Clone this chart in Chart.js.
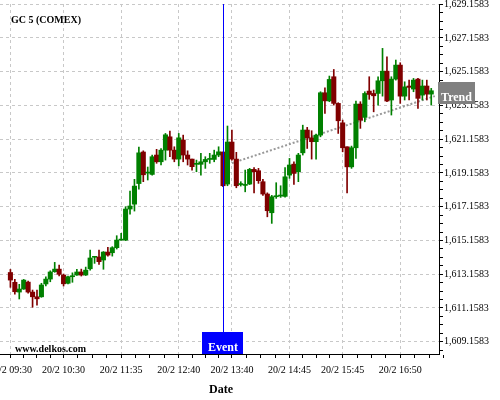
<!DOCTYPE html>
<html>
<head>
<meta charset="utf-8">
<script src="https://cdn.jsdelivr.net/npm/chart.js@4.4.1/dist/chart.umd.min.js"></script>
<style>
html, body { margin: 0; padding: 0; background: #fff; }
#wrap { width: 500px; height: 400px; }
</style>
</head>
<body>
<div id="wrap"><canvas id="graph"></canvas></div>
<script>
// 5 minute candles, 20/2 from 09:30 (index 0) to 17:25 (index 95)
const openP = [
  1613.26, 1612.68, 1612.10, 1612.28, 1612.69, 1612.10, 1611.82, 1611.82, 1612.58, 1612.87,
  1613.31, 1613.46, 1613.11, 1612.62, 1613.01, 1613.11, 1613.29, 1613.11, 1613.48, 1614.16,
  1614.18, 1614.00, 1614.47, 1614.43, 1614.73, 1615.18, 1615.18, 1617.02, 1617.31, 1618.53,
  1620.40, 1619.15, 1619.07, 1620.22, 1619.82, 1620.51, 1621.30, 1620.51, 1619.98, 1621.11,
  1620.22, 1619.98, 1619.67, 1619.67, 1619.82, 1619.96, 1619.96, 1620.22, 1620.40, 1618.50,
  1620.99, 1619.98, 1618.47, 1618.42, 1618.50, 1619.37, 1619.29, 1618.64, 1617.91, 1616.80,
  1617.75, 1617.79, 1617.77, 1619.03, 1619.68, 1619.23, 1620.35, 1621.70, 1621.24, 1621.01,
  1621.40, 1623.91, 1623.43, 1624.86, 1623.28, 1622.13, 1620.71, 1619.52, 1620.65, 1623.24,
  1622.45, 1624.01, 1623.87, 1623.87, 1624.62, 1625.19, 1623.48, 1624.72, 1625.55, 1623.71,
  1624.31, 1624.13, 1624.72, 1623.77, 1624.31, 1623.83
];
const highP = [
  1613.44, 1612.85, 1612.56, 1612.85, 1612.75, 1612.22, 1612.22, 1612.62, 1613.01, 1613.36,
  1613.86, 1613.70, 1613.17, 1613.05, 1613.24, 1613.44, 1613.46, 1613.58, 1614.59, 1614.21,
  1614.59, 1614.50, 1614.75, 1614.79, 1615.44, 1615.58, 1617.16, 1618.09, 1618.78, 1620.69,
  1620.47, 1619.51, 1620.22, 1620.56, 1620.61, 1621.50, 1621.64, 1620.71, 1621.50, 1621.40,
  1620.47, 1619.98, 1619.92, 1620.32, 1620.12, 1620.32, 1620.51, 1620.71, 1620.40, 1621.94,
  1621.70, 1620.38, 1618.64, 1619.33, 1619.43, 1619.47, 1619.43, 1618.78, 1617.98, 1617.83,
  1618.58, 1618.40, 1619.47, 1620.02, 1619.82, 1620.32, 1621.99, 1621.86, 1621.66, 1621.46,
  1623.97, 1624.20, 1624.90, 1625.29, 1623.32, 1622.29, 1620.71, 1620.75, 1623.42, 1623.38,
  1623.97, 1624.86, 1624.07, 1624.86, 1626.54, 1626.04, 1624.86, 1625.85, 1625.69, 1624.56,
  1624.66, 1624.76, 1624.76, 1624.66, 1624.66, 1624.17
];
const lowP = [
  1612.38, 1611.97, 1611.69, 1612.26, 1612.03, 1611.20, 1611.33, 1611.79, 1612.46, 1612.71,
  1613.27, 1613.05, 1612.46, 1612.58, 1612.68, 1613.08, 1613.05, 1613.08, 1613.40, 1613.80,
  1613.74, 1613.45, 1614.23, 1614.23, 1614.65, 1615.17, 1615.15, 1616.72, 1616.90, 1618.20,
  1618.64, 1618.74, 1619.03, 1619.73, 1619.63, 1619.92, 1620.12, 1619.82, 1619.58, 1619.82,
  1619.63, 1619.33, 1619.23, 1619.03, 1619.43, 1619.73, 1619.82, 1620.12, 1618.34, 1618.40,
  1619.92, 1618.28, 1618.38, 1618.04, 1618.47, 1617.98, 1618.54, 1617.83, 1616.56, 1616.17,
  1617.65, 1617.71, 1617.73, 1618.84, 1618.48, 1618.64, 1620.22, 1620.61, 1619.98, 1619.98,
  1621.30, 1622.69, 1623.38, 1623.18, 1621.50, 1620.41, 1617.98, 1619.43, 1620.02, 1621.80,
  1622.19, 1623.52, 1622.78, 1623.18, 1623.71, 1623.38, 1622.59, 1624.66, 1623.28, 1623.48,
  1623.48, 1623.97, 1622.98, 1623.48, 1623.48, 1623.18
];
const closeP = [
  1612.81, 1612.12, 1612.28, 1612.81, 1612.10, 1611.82, 1611.70, 1612.52, 1612.87, 1613.29,
  1613.46, 1613.15, 1612.59, 1613.01, 1613.05, 1613.29, 1613.11, 1613.40, 1614.12, 1614.18,
  1613.90, 1614.47, 1614.29, 1614.73, 1615.18, 1615.21, 1617.02, 1617.20, 1618.38, 1620.35,
  1619.05, 1619.17, 1620.12, 1619.82, 1620.51, 1621.42, 1620.51, 1619.98, 1621.24, 1620.22,
  1619.98, 1619.53, 1619.73, 1619.82, 1619.96, 1620.02, 1620.22, 1620.41, 1618.40, 1620.99,
  1619.98, 1618.40, 1618.49, 1618.46, 1619.37, 1619.23, 1618.70, 1617.91, 1616.92, 1617.75,
  1617.79, 1617.83, 1618.93, 1619.63, 1619.13, 1620.22, 1621.70, 1621.24, 1621.01, 1621.40,
  1623.91, 1623.43, 1624.70, 1623.28, 1622.25, 1620.65, 1619.52, 1620.65, 1623.24, 1622.29,
  1623.87, 1623.81, 1623.73, 1624.62, 1625.19, 1623.42, 1624.72, 1625.55, 1623.71, 1624.26,
  1624.23, 1624.66, 1623.58, 1624.31, 1623.83, 1624.03
];

// axes
const xTickPos = [0, 12, 25, 38, 50, 63, 75, 88];
const xTickLabels = ["20/2 09:30", "20/2 10:30", "20/2 11:35", "20/2 12:40",
                     "20/2 13:40", "20/2 14:45", "20/2 15:45", "20/2 16:50"];
const yTicks = [1609.1583, 1611.1583, 1613.1583, 1615.1583, 1617.1583, 1619.1583,
                1621.1583, 1623.1583, 1625.1583, 1627.1583, 1629.1583];

// event + trend
const eventIdx = 48;
const trendX = [50, 95.8];
const trendY = [1619.74, 1623.71];

const serif = "'Liberation Serif', 'DejaVu Serif', serif";
const green = "#008000";
const red = "#800000";
const colors = openP.map((o, i) => closeP[i] >= o ? green : red);

// minor ticks: 4 steps per labelled interval on x, every 0.5 on y
const xAll = [];
xTickPos.forEach((a, k) => {
  const b = k + 1 < xTickPos.length ? xTickPos[k + 1] : a + 13;
  for (let j = 0; j < 4; j++) xAll.push(a + (b - a) * j / 4);
});
const yAll = [];
for (let v = yTicks[0] - 0.5; v <= yTicks[yTicks.length - 1] + 1e-6; v += 0.5) yAll.push(+v.toFixed(4));

const isYMajor = v => yTicks.some(t => Math.abs(t - v) < 1e-6);

const overlay = {
  id: "overlay",
  afterDraw(chart) {
    const { ctx, chartArea: area, scales: { x, y } } = chart;
    ctx.save();

    // ligne de l'événement
    const ex = Math.round(x.getPixelForValue(eventIdx));
    ctx.strokeStyle = "#0000ff";
    ctx.lineWidth = 1;
    ctx.beginPath();
    ctx.moveTo(ex + 0.5, area.top);
    ctx.lineTo(ex + 0.5, area.bottom - 22);
    ctx.stroke();
    ctx.fillStyle = "#0000ff";
    ctx.fillRect(ex - 21, area.bottom - 22, 41, 22);

    ctx.fillStyle = "#fff";
    ctx.font = "bold 12px " + serif;
    ctx.textAlign = "center";
    ctx.textBaseline = "alphabetic";
    ctx.fillText("Event", ex, area.bottom - 3);

    // étiquette Trend
    const ty = Math.round(y.getPixelForValue(trendY[1]));
    ctx.fillStyle = "#808080";
    ctx.fillRect(area.right - 1, ty - 14, 37, 22);
    ctx.fillStyle = "#fff";
    ctx.fillText("Trend", area.right + 17.5, ty + 5);

    // textes
    ctx.fillStyle = "#000";
    ctx.textAlign = "left";
    ctx.font = "bold 10px " + serif;
    ctx.fillText("GC 5 (COMEX)", 11, 23);
    ctx.fillText("www.delkos.com", 15, 352);
    ctx.textAlign = "center";
    ctx.font = "bold 12px " + serif;
    ctx.fillText("Date", 221, 393);
    ctx.restore();
  }
};

new Chart(document.getElementById("graph"), {
  type: "bar",
  data: {
    datasets: [
      {
        type: "bar",
        data: openP.map((o, i) => ({ x: i, y: [o, closeP[i]] })),
        backgroundColor: colors,
        barThickness: 4.4,
        minBarLength: 1,
        grouped: false,
        order: 0
      },
      {
        type: "bar",
        data: lowP.map((l, i) => ({ x: i, y: [l, highP[i]] })),
        backgroundColor: colors,
        barThickness: 1,
        grouped: false,
        order: 1
      },
      {
        type: "line",
        data: trendX.map((v, i) => ({ x: v, y: trendY[i] })),
        borderColor: "#999999",
        borderWidth: 2,
        borderDash: [2, 2],
        pointRadius: 0,
        order: 2
      }
    ]
  },
  options: {
    responsive: true,
    maintainAspectRatio: false,
    devicePixelRatio: 1,
    animation: false,
    layout: { padding: { top: 4, left: 0, right: 0, bottom: 0 } },
    plugins: { legend: { display: false }, tooltip: { enabled: false } },
    scales: {
      x: {
        type: "linear",
        position: "bottom",
        offset: false,
        min: -2.35,
        max: 96.75,
        afterBuildTicks: s => { s.ticks = xAll.map(v => ({ value: v })); },
        afterFit: s => { s.height = 46; s.paddingLeft = 0; s.paddingRight = 0; },
        ticks: {
          autoSkip: false,
          maxRotation: 0,
          padding: 6,
          color: "#000",
          font: { family: serif, size: 10 },
          callback: v => {
            const k = xTickPos.indexOf(v);
            return k >= 0 ? xTickLabels[k] : "";
          }
        },
        grid: {
          offset: false,
          color: c => (c.tick && xTickPos.includes(c.tick.value)) ? "#c8c8c8" : "rgba(0,0,0,0)",
          tickColor: "#000",
          tickLength: 4
        },
        border: { color: "#000", width: 1, dash: [3, 3] }
      },
      y: {
        type: "linear",
        position: "right",
        min: 1608.43,
        max: 1629.17,
        afterBuildTicks: s => { s.ticks = yAll.filter(v => v >= 1608.43 && v <= 1629.17).map(v => ({ value: v })); },
        afterFit: s => { s.width = 61; s.paddingTop = 0; s.paddingBottom = 0; },
        ticks: {
          autoSkip: false,
          padding: 1,
          color: "#000",
          font: { family: serif, size: 10 },
          callback: v => isYMajor(v)
            ? v.toLocaleString("en-US", { minimumFractionDigits: 4, maximumFractionDigits: 4 })
            : ""
        },
        grid: {
          color: c => (c.tick && isYMajor(c.tick.value)) ? "#c8c8c8" : "rgba(0,0,0,0)",
          tickColor: "#000",
          tickLength: 4
        },
        border: { color: "#000", width: 1, dash: [3, 3] }
      }
    }
  },
  plugins: [overlay]
});
</script>
</body>
</html>
